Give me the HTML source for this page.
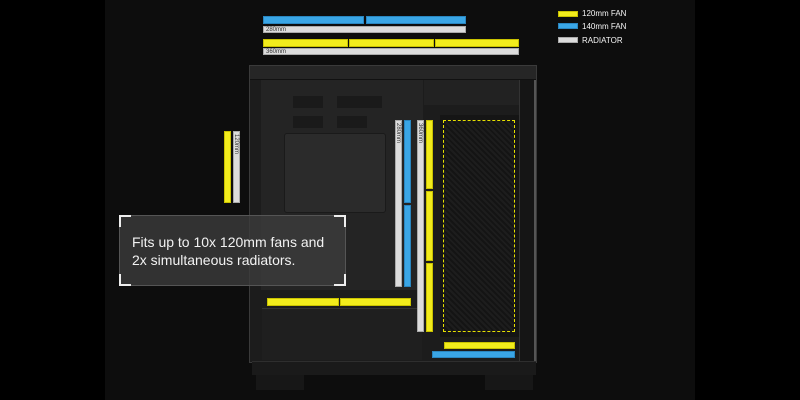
<!DOCTYPE html>
<html><head><meta charset="utf-8"><style>
*{margin:0;padding:0;box-sizing:border-box}
body{width:800px;height:400px;background:#000;position:relative;overflow:hidden;font-family:"Liberation Sans",sans-serif}
div{position:absolute}
.y{background:#f2ec1c;border:1px solid #c9c200}
.b{background:#3aa6e6;border:1px solid #2a86c0}
.w{background:#dcdcdc;border:1px solid #aaa}
.lbl{font-size:6px;color:#333;line-height:6px;padding-left:2px}
.vl{writing-mode:vertical-rl;font-size:6px;color:#333;padding-top:2px;line-height:6px}
</style></head><body>
<div style="left:105px;top:0;width:590px;height:400px;background:#0d0d0d"></div>
<!-- case -->
<div style="left:249px;top:65px;width:288px;height:298px;background:#1c1c1c;border:1px solid #3a3a3a"></div>
<div style="left:250px;top:66px;width:286px;height:14px;background:#262626;border-bottom:1px solid #111"></div>
<div style="left:261px;top:80px;width:162px;height:210px;background:#242424"></div>
<div style="left:284px;top:133px;width:102px;height:80px;background:#2b2b2b;border:1px solid #1a1a1a;border-radius:3px"></div>
<div style="left:293px;top:96px;width:30px;height:12px;background:#1a1a1a"></div>
<div style="left:337px;top:96px;width:45px;height:12px;background:#1a1a1a"></div>
<div style="left:293px;top:116px;width:30px;height:12px;background:#1a1a1a"></div>
<div style="left:337px;top:116px;width:30px;height:12px;background:#1a1a1a"></div>
<div style="left:424px;top:80px;width:95px;height:25px;background:#222"></div>
<div style="left:262px;top:308px;width:160px;height:52px;background:#1f1f1f;border-top:1px solid #333"></div>
<div style="left:440px;top:115px;width:80px;height:222px;background:#151515"></div>
<div style="left:444px;top:121px;width:70px;height:210px;background:repeating-linear-gradient(45deg,#1d1d1d 0 2px,#141414 2px 4px)"></div>
<div style="left:519px;top:80px;width:17px;height:282px;background:#151515;border-left:1px solid #333;border-right:2px solid #555"></div>
<div style="left:252px;top:361px;width:284px;height:14px;background:#1a1a1a;border-top:1px solid #2e2e2e"></div>
<div style="left:256px;top:375px;width:48px;height:15px;background:#171717"></div>
<div style="left:485px;top:375px;width:48px;height:15px;background:#171717"></div>
<!-- top bars -->
<div class="b" style="left:263px;top:16px;width:101px;height:8px"></div>
<div class="b" style="left:366px;top:16px;width:100px;height:8px"></div>
<div class="w lbl" style="left:263px;top:26px;width:203px;height:7px">280mm</div>
<div class="y" style="left:263px;top:39px;width:85px;height:8px"></div>
<div class="y" style="left:349px;top:39px;width:85px;height:8px"></div>
<div class="y" style="left:435px;top:39px;width:84px;height:8px"></div>
<div class="w lbl" style="left:263px;top:48px;width:256px;height:7px">360mm</div>
<!-- left 120 -->
<div class="y" style="left:224px;top:131px;width:7px;height:72px"></div>
<div class="w vl" style="left:233px;top:131px;width:7px;height:72px">120mm</div>
<!-- verticals -->
<div class="w vl" style="left:395px;top:120px;width:7px;height:167px">280mm</div>
<div class="b" style="left:404px;top:120px;width:7px;height:83px"></div>
<div class="b" style="left:404px;top:205px;width:7px;height:82px"></div>
<div class="w vl" style="left:417px;top:120px;width:7px;height:212px">360mm</div>
<div class="y" style="left:426px;top:120px;width:7px;height:69px"></div>
<div class="y" style="left:426px;top:191px;width:7px;height:70px"></div>
<div class="y" style="left:426px;top:263px;width:7px;height:69px"></div>
<div style="left:443px;top:120px;width:72px;height:212px;border:1px dashed #e6e000"></div>
<div class="y" style="left:444px;top:342px;width:71px;height:7px"></div>
<div class="b" style="left:432px;top:351px;width:83px;height:7px"></div>
<div class="y" style="left:267px;top:298px;width:72px;height:8px"></div>
<div class="y" style="left:340px;top:298px;width:71px;height:8px"></div>
<!-- text box -->
<div style="left:119px;top:215px;width:227px;height:71px;background:rgba(60,60,60,0.8);border:1px solid #555"></div>
<div style="left:119px;top:215px;width:12px;height:12px;border-left:2px solid #eee;border-top:2px solid #eee"></div>
<div style="left:334px;top:215px;width:12px;height:12px;border-right:2px solid #eee;border-top:2px solid #eee"></div>
<div style="left:119px;top:274px;width:12px;height:12px;border-left:2px solid #eee;border-bottom:2px solid #eee"></div>
<div style="left:334px;top:274px;width:12px;height:12px;border-right:2px solid #eee;border-bottom:2px solid #eee"></div>
<div style="left:132px;top:233px;color:#f2f2f2;font-size:14px;line-height:18px">Fits up to 10x 120mm fans and<br>2x simultaneous radiators.</div>
<!-- legend -->
<div class="y" style="left:558px;top:11px;width:20px;height:6px"></div>
<div class="b" style="left:558px;top:23px;width:20px;height:6px"></div>
<div class="w" style="left:558px;top:37px;width:20px;height:6px"></div>
<div style="left:582px;top:9px;color:#f5f5f5;font-size:8px">120mm FAN</div>
<div style="left:582px;top:22px;color:#f5f5f5;font-size:8px">140mm FAN</div>
<div style="left:582px;top:36px;color:#f5f5f5;font-size:8px">RADIATOR</div>
</body></html>
